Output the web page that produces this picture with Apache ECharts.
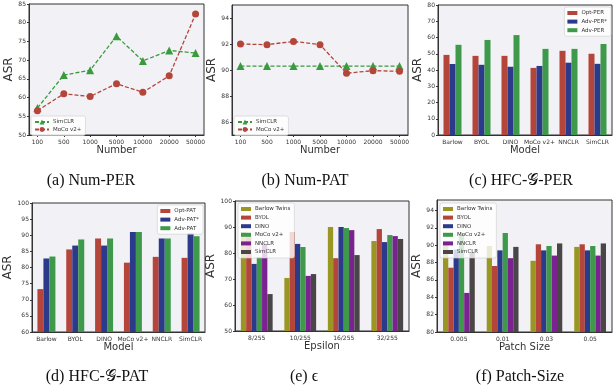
<!DOCTYPE html>
<html>
<head>
<meta charset="utf-8">
<script src="https://cdn.jsdelivr.net/npm/echarts@6/dist/echarts.min.js"></script>
<style>
  html, body { margin: 0; padding: 0; background: #fff; }
  #chart { width: 613px; height: 389px; }
</style>
</head>
<body>
<div id="chart"></div>
<script>
// (a) / (b) number of samples
var numCats = ['100', '500', '1000', '5000', '10000', '20000', '50000'];
var perSimclr = [57.2, 66.0, 67.3, 76.4, 69.8, 72.6, 71.9];
var perMoco = [56.5, 61.0, 60.3, 63.7, 61.4, 65.8, 82.3];
var patSimclr = [90.3, 90.3, 90.3, 90.3, 90.3, 90.3, 90.3];
var patMoco = [92.0, 91.95, 92.2, 91.95, 89.75, 89.95, 89.9];

// (c) / (d) models
var models = ['Barlow', 'BYOL', 'DINO', 'MoCo v2+', 'NNCLR', 'SimCLR'];
var optPer = [49.3, 48.7, 48.7, 41.3, 51.8, 50.0];
var advPerStar = [43.7, 43.2, 42.0, 42.5, 44.5, 43.8];
var advPer = [55.5, 58.5, 61.5, 53.0, 53.0, 56.0];
var optPat = [73.3, 85.6, 89.0, 81.5, 83.3, 83.0];
var advPatStar = [82.8, 86.8, 86.8, 91.0, 89.0, 90.6];
var advPat = [83.4, 88.7, 89.0, 91.0, 89.0, 89.7];

// (e) epsilon
var epsCats = ['8/255', '10/255', '16/255', '32/255'];
var epsBarlow = [88.0, 70.4, 90.0, 84.6];
var epsByol = [86.5, 88.1, 78.0, 89.2];
var epsDino = [75.8, 83.5, 90.0, 84.2];
var epsMoco = [78.5, 82.3, 89.6, 86.9];
var epsNnclr = [83.5, 71.2, 88.8, 86.5];
var epsSimclr = [64.2, 71.9, 79.2, 85.4];

// (f) patch size
var patchCats = ['0.005', '0.01', '0.03', '0.05'];
var psBarlow = [90.3, 89.9, 88.2, 89.8];
var psByol = [87.4, 87.6, 90.1, 90.1];
var psDino = [89.5, 89.4, 89.4, 89.4];
var psMoco = [91.3, 91.4, 89.9, 89.9];
var psNnclr = [84.5, 88.5, 88.8, 88.8];
var psSimclr = [89.1, 89.8, 90.2, 90.2];

var modelNames = ['Barlow Twins', 'BYOL', 'DINO', 'MoCo v2+', 'NNCLR', 'SimCLR'];
var RED = '#b4453a', BLUE = '#2c3a8c', GREEN = '#3e9a4a', LGREEN = '#3a9a3e';
var modelColors = ['#9a9624', RED, BLUE, GREEN, '#7a2390', '#4a4546'];

var FONT = 'DejaVu Sans';
var grids = [
    {left: 29, top: 4, width: 175, height: 131},
    {left: 232, top: 5, width: 176, height: 130},
    {left: 438, top: 5, width: 174, height: 130},
    {left: 32, top: 203, width: 173, height: 129},
    {left: 235, top: 201, width: 174, height: 130},
    {left: 437, top: 200, width: 175, height: 132}
];
grids.forEach(function (g) {
    g.show = true;
    g.backgroundColor = '#f2f2f6';
    g.borderColor = '#333';
    g.borderWidth = 1;
});

var tickLabel = {fontSize: 6, color: '#333', fontFamily: FONT, margin: 4};
var tick = {length: 2, lineStyle: {color: '#333'}};

function xName(name) {
    return {name: name, nameLocation: 'middle', nameGap: 7,
        nameTextStyle: {fontSize: 10, color: '#333', fontFamily: FONT}};
}

function catAxis(idx, cats, name) {
    return Object.assign({
        type: 'category', gridIndex: idx, data: cats,
        axisLine: {lineStyle: {color: '#333'}},
        axisTick: Object.assign({alignWithLabel: true, interval: 0}, tick),
        axisLabel: Object.assign({interval: 0}, tickLabel), splitLine: {show: false}
    }, xName(name));
}

// line plots use a value axis so the points sit a little inside the frame
function idxAxis(idx, cats, name) {
    var pos = cats.map(function (c, i) { return i; });
    return Object.assign({
        type: 'value', gridIndex: idx, min: -0.32, max: 6.32,
        axisLine: {onZero: false, lineStyle: {color: '#333'}},
        axisTick: Object.assign({customValues: pos}, tick),
        axisLabel: Object.assign({customValues: pos, formatter: function (v) { return cats[Math.round(v)]; }}, tickLabel),
        splitLine: {show: false}
    }, xName(name));
}

function valAxis(idx, min, max, interval, custom) {
    var ax = {
        type: 'value', gridIndex: idx, min: min, max: max, interval: interval,
        name: 'ASR', nameLocation: 'middle', nameGap: 12,
        nameTextStyle: {fontSize: 12, color: '#333', fontFamily: FONT},
        axisLine: {show: true, onZero: false, lineStyle: {color: '#333'}},
        axisTick: Object.assign({show: true}, tick),
        axisLabel: Object.assign({}, tickLabel, {margin: 3}),
        splitLine: {show: false}
    };
    if (custom) {
        ax.axisTick.customValues = custom;
        ax.axisLabel.customValues = custom;
    }
    return ax;
}

var series = [];
function lineSeries(name, data, axis, color, symbol, size) {
    series.push({
        name: name, type: 'line', xAxisIndex: axis, yAxisIndex: axis,
        data: data.map(function (v, i) { return [i, v]; }),
        symbol: symbol, symbolSize: size,
        lineStyle: {color: color, width: 1.3, type: [4, 2]},
        itemStyle: {color: color},
        emphasis: {disabled: true}
    });
}
lineSeries('a|SimCLR', perSimclr, 0, LGREEN, 'triangle', 8);
lineSeries('a|MoCo v2+', perMoco, 0, RED, 'circle', 7);
lineSeries('b|SimCLR', patSimclr, 1, LGREEN, 'triangle', 8);
lineSeries('b|MoCo v2+', patMoco, 1, RED, 'circle', 7);

function barSeries(name, data, axis, color, width) {
    series.push({
        name: name, type: 'bar', xAxisIndex: axis, yAxisIndex: axis,
        data: data, barWidth: width, barGap: '0%',
        itemStyle: {color: color}, emphasis: {disabled: true}
    });
}
barSeries('c|Opt-PER', optPer, 2, RED, 6);
barSeries('c|Adv-PER*', advPerStar, 2, BLUE, 6);
barSeries('c|Adv-PER', advPer, 2, GREEN, 6);
barSeries('d|Opt-PAT', optPat, 3, RED, 6);
barSeries('d|Adv-PAT*', advPatStar, 3, BLUE, 6);
barSeries('d|Adv-PAT', advPat, 3, GREEN, 6);
[epsBarlow, epsByol, epsDino, epsMoco, epsNnclr, epsSimclr].forEach(function (d, i) {
    barSeries('e|' + modelNames[i], d, 4, modelColors[i], 5.3);
});
[psBarlow, psByol, psDino, psMoco, psNnclr, psSimclr].forEach(function (d, i) {
    barSeries('f|' + modelNames[i], d, 5, modelColors[i], 5.3);
});

function legend(prefix, names, pos, icon) {
    return Object.assign({
        data: names.map(function (n) { return prefix + '|' + n; }),
        orient: 'vertical', icon: icon,
        itemWidth: icon === 'rect' ? 10 : 14, itemHeight: icon === 'rect' ? 4 : 6,
        itemGap: icon === 'rect' ? 2.6 : 1.5,
        padding: [3, 4, 3, 3],
        backgroundColor: 'rgba(255,255,255,0.8)',
        borderColor: '#ccc', borderWidth: 0.6, borderRadius: 2,
        textStyle: {fontSize: 5.5, color: '#333', fontFamily: FONT, padding: [0, 0, 0, -1]},
        formatter: function (n) { return n.split('|')[1]; },
        selectedMode: false
    }, pos);
}

var captions = [
    ['(a) Num-PER', 91, 181], ['(b) Num-PAT', 305, 181], ['(c) HFC-\uD835\uDCA2-PER', 521, 181],
    ['(d) HFC-\uD835\uDCA2-PAT', 97, 377], ['(e) \u03F5', 304, 377], ['(f) Patch-Size', 520, 377]
];

var option = {
    animation: false,
    grid: grids,
    xAxis: [
        idxAxis(0, numCats, 'Number'),
        idxAxis(1, numCats, 'Number'),
        catAxis(2, models, 'Model'),
        catAxis(3, models, 'Model'),
        catAxis(4, epsCats, 'Epsilon'),
        catAxis(5, patchCats, 'Patch Size')
    ],
    yAxis: [
        valAxis(0, 50, 85, 5),
        valAxis(1, 85, 95, null, [86, 88, 90, 92, 94]),
        valAxis(2, 0, 80, 10),
        valAxis(3, 60, 100, 5),
        valAxis(4, 50, 100, 10),
        valAxis(5, 80, 95.2, null, [80, 82, 84, 86, 88, 90, 92, 94])
    ],
    legend: [
        legend('a', ['SimCLR', 'MoCo v2+'], {left: 31, top: 116}),
        legend('b', ['SimCLR', 'MoCo v2+'], {left: 234, top: 116}),
        legend('c', ['Opt-PER', 'Adv-PER*', 'Adv-PER'], {right: 2, top: 7}, 'rect'),
        legend('d', ['Opt-PAT', 'Adv-PAT*', 'Adv-PAT'], {right: 410, top: 205}, 'rect'),
        legend('e', modelNames, {left: 238, top: 203}, 'rect'),
        legend('f', modelNames, {left: 440, top: 203}, 'rect')
    ],
    series: series,
    graphic: captions.map(function (c) {
        return {
            type: 'text', x: c[1], y: c[2],
            style: {text: c[0], textAlign: 'center', textVerticalAlign: 'middle',
                font: '16px "Liberation Serif", serif', fill: '#111'}
        };
    })
};

var myChart = echarts.init(document.getElementById('chart'));
myChart.setOption(option);
</script>
</body>
</html>
